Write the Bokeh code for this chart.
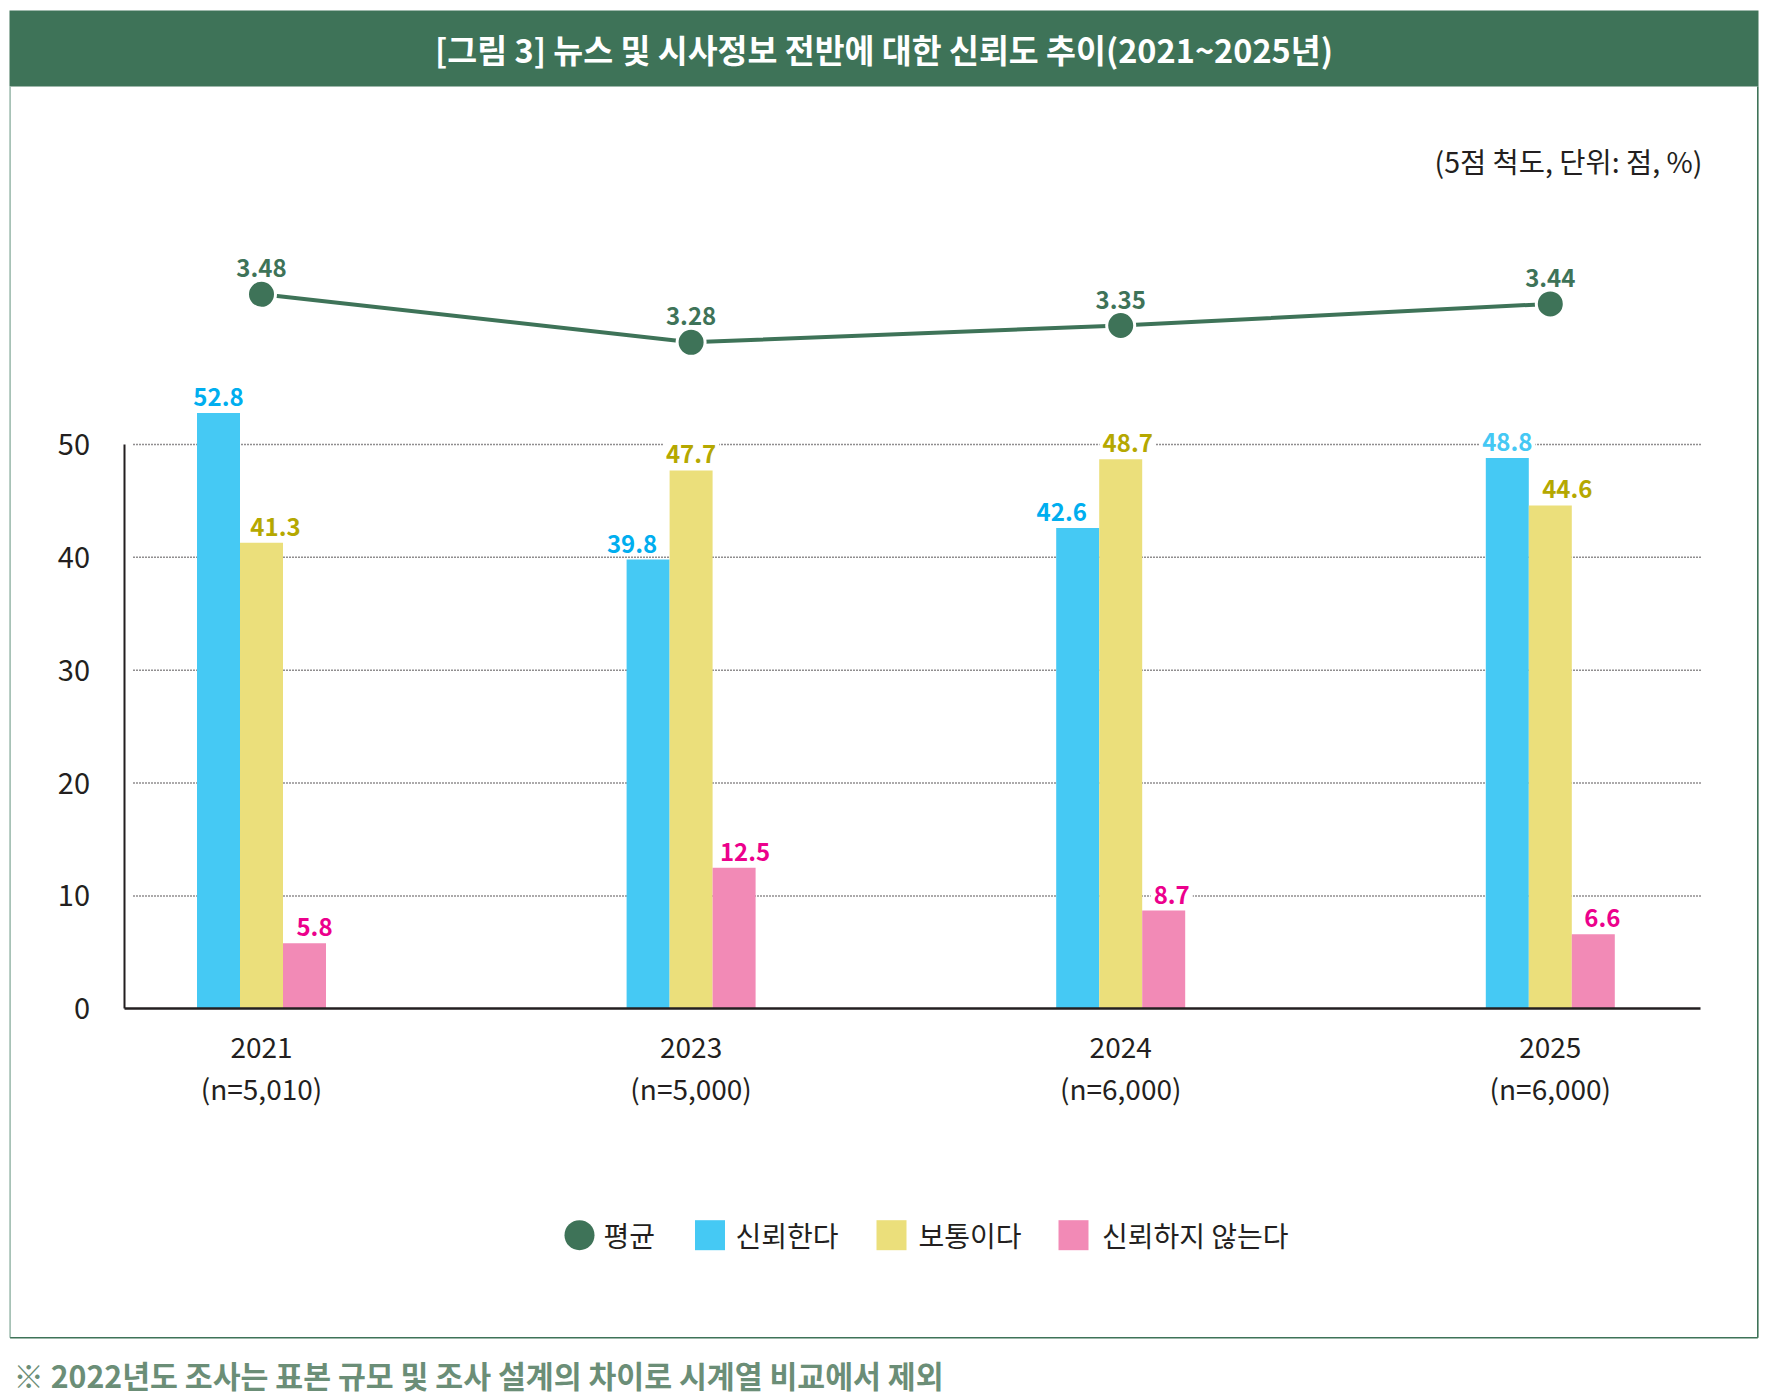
from bokeh.plotting import figure
from bokeh.models import Range1d, LinearAxis, FixedTicker, ColumnDataSource
from bokeh.core.properties import value
from bokeh.embed import file_html
from bokeh.resources import INLINE

# ---------------- data ----------------
years = ["2021", "2023", "2024", "2025"]
samples = ["n=5,010", "n=5,000", "n=6,000", "n=6,000"]
avg_score = [3.48, 3.28, 3.35, 3.44]
trust = [52.8, 39.8, 42.6, 48.8]
neutral = [41.3, 47.7, 48.7, 44.6]
distrust = [5.8, 12.5, 8.7, 6.6]
y_ticks = [0, 10, 20, 30, 40, 50]
series_names = ["평균", "신뢰한다", "보통이다", "신뢰하지 않는다"]
title_text = "[그림 3] 뉴스 및 시사정보 전반에 대한 신뢰도 추이(2021~2025년)"
unit_text = "(5점 척도, 단위: 점, %)"
note_text = "※ 2022년도 조사는 표본 규모 및 조사 설계의 차이로 시계열 비교에서 제외"

# ---------------- styles ----------------
FONT = "Noto Sans CJK KR"
GREEN = "#3e7358"
DARK = "#231f20"
BLUE = "#45c9f4"
YELLOW = "#ebdf7b"
PINK = "#f28ab6"
BLUE_TXT = ["#00aeef", "#00aeef", "#00aeef", "#45c8f4"]
YELLOW_TXT = "#b5a800"
PINK_TXT = "#ec008c"
NOTE_COLOR = "#6b8e77"
# horizontal nudges of the value labels (px), as in the original layout
trust_dx = [0, -16, -16, 0]
neutral_dx = [14, 0, 7, 17]
distrust_dx = [10, 11, 8, 9]

# ---------------- layout (pixels inside the figure) ----------------
W, H = 1766, 1399
X0 = 261.0      # centre of first group
GAP = 429.6     # distance between groups
BASE = 1008.3   # baseline (0 %)
PPU = 11.286    # pixels per percent
BAR_W = 43.0 / GAP

AVG_MID, AVG_PY, AVG_S = 3.3875, 316.0, 240.0   # avg-score scale


def fx(px):
    return (px - X0) / GAP


def fy(py):
    return (BASE - py) / PPU


p = figure(width=W, height=H, x_range=Range1d(fx(0), fx(W)),
           y_range=Range1d(fy(H), fy(0)),
           output_backend="svg", toolbar_location=None, min_border=0,
           x_axis_type=None, y_axis_type=None)
p.outline_line_color = None
p.background_fill_color = "white"
p.border_fill_color = "white"
p.extra_y_ranges = {"avg": Range1d(AVG_MID + (AVG_PY - H) / AVG_S,
                                   AVG_MID + AVG_PY / AVG_S)}

# frame: title bar + box
p.quad(left=[fx(9)], right=[fx(1758)], top=[fy(10)], bottom=[fy(86)],
       fill_color=GREEN, line_color=None)
p.segment(x0=[fx(9.6), fx(9.6), fx(1757.3)], y0=[fy(86), fy(1337.3), fy(1337.3)],
          x1=[fx(9.6), fx(1757.3), fx(1757.3)], y1=[fy(1337.3), fy(1337.3), fy(86)],
          line_color=["#9dbbae", GREEN, GREEN], line_width=1.6)
p.text(x=[fx(883.5)], y=[fy(48)], text=[title_text], text_align="center",
       text_baseline="middle", text_color="white", text_font=value(FONT),
       text_font_size="32.5px", text_font_style="bold")
p.text(x=[fx(1702)], y=[fy(160)], text=[unit_text], text_align="right",
       text_baseline="middle", text_color=DARK, text_font=value(FONT),
       text_font_size="28.5px")

# dotted grid lines
grid_vals = [t for t in y_ticks if t > 0]
p.segment(x0=[fx(133)] * len(grid_vals), x1=[fx(1700)] * len(grid_vals),
          y0=grid_vals, y1=grid_vals, line_color=DARK, line_width=1.5,
          line_dash="1 2")

xs = list(range(len(years)))
src = ColumnDataSource(dict(
    x_t=[x - BAR_W for x in xs], x_n=xs, x_d=[x + BAR_W for x in xs],
    trust=trust, neutral=neutral, distrust=distrust,
    l_t=[f"{v:.1f}" for v in trust], l_n=[f"{v:.1f}" for v in neutral],
    l_d=[f"{v:.1f}" for v in distrust],
    dx_t=trust_dx, dx_n=neutral_dx, dx_d=distrust_dx, c_t=BLUE_TXT,
))

p.vbar(x="x_t", top="trust", bottom=0, width=BAR_W, source=src,
       fill_color=BLUE, line_color=None)
p.vbar(x="x_n", top="neutral", bottom=0, width=BAR_W, source=src,
       fill_color=YELLOW, line_color=None)
p.vbar(x="x_d", top="distrust", bottom=0, width=BAR_W, source=src,
       fill_color=PINK, line_color=None)

lab_kw = dict(source=src, text_align="center", text_baseline="alphabetic",
              y_offset=-16, text_font=value(FONT), text_font_size="24px",
              text_font_style="bold", background_fill_color="white",
              padding=3)
p.text(x="x_t", y="trust", text="l_t", x_offset="dx_t", text_color="c_t", **lab_kw)
p.text(x="x_n", y="neutral", text="l_n", x_offset="dx_n", text_color=YELLOW_TXT, **lab_kw)
p.text(x="x_d", y="distrust", text="l_d", x_offset="dx_d", text_color=PINK_TXT, **lab_kw)

# average line
asrc = ColumnDataSource(dict(x=xs, y=avg_score, lab=[f"{v:.2f}" for v in avg_score]))
p.line("x", "y", source=asrc, y_range_name="avg", line_color=GREEN, line_width=4)
p.scatter("x", "y", source=asrc, y_range_name="avg", size=28, fill_color=GREEN,
          line_color="white", line_width=3)
p.text("x", "y", text="lab", source=asrc, y_range_name="avg", text_align="center",
       text_baseline="alphabetic", y_offset=-26, text_color=GREEN,
       text_font=value(FONT), text_font_size="24px", text_font_style="bold")

# axes
yaxis = LinearAxis(fixed_location=fx(123.5), bounds=(0, 50),
                   ticker=FixedTicker(ticks=y_ticks),
                   major_tick_out=0, major_tick_in=0, minor_tick_out=0, minor_tick_in=0,
                   axis_line_color=DARK, axis_line_width=2,
                   major_label_standoff=34, major_label_text_font=FONT,
                   major_label_text_font_size="29px", major_label_text_color=DARK)
p.add_layout(yaxis, "left")

xaxis = LinearAxis(fixed_location=0, bounds=(fx(123.5), fx(1700)),
                   ticker=FixedTicker(ticks=xs),
                   major_label_overrides={i: f"{years[i]}\n({samples[i]})" for i in xs},
                   major_tick_out=0, major_tick_in=0, minor_tick_out=0, minor_tick_in=0,
                   axis_line_color=DARK, axis_line_width=2.5,
                   major_label_standoff=17, major_label_text_font=FONT,
                   major_label_text_font_size="28px", major_label_text_color=DARK,
                   major_label_text_line_height=1.06)
p.add_layout(xaxis, "below")

# legend (drawn manually)
LY = fy(1234.7)
p.scatter([fx(579)], [LY], size=30, marker="circle", fill_color=GREEN, line_color=None)
p.scatter([fx(709.5), fx(891), fx(1073)], [LY] * 3, size=30, marker="square",
          fill_color=[BLUE, YELLOW, PINK], line_color=None)
p.text(x=[fx(603), fx(735), fx(918), fx(1101.5)], y=[fy(1234)] * 4, text=series_names,
       text_align="left", text_baseline="middle", text_color=DARK,
       text_font=value(FONT), text_font_size="28px")

# footnote
p.text(x=[fx(13)], y=[fy(1374)], text=[note_text], text_align="left",
       text_baseline="middle", text_color=NOTE_COLOR, text_font=value(FONT),
       text_font_size="30.3px", text_font_style="bold")

open("out.html", "w").write(file_html(p, INLINE))
